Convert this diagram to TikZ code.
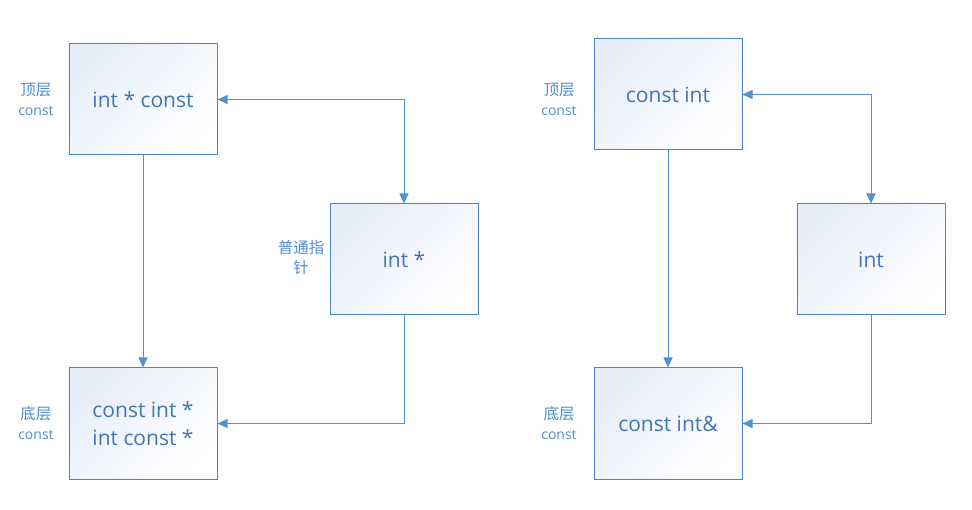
\documentclass[tikz,border=0pt]{standalone}
\usepackage{fontspec}
\setmainfont{Open Sans}
\newfontfamily\cjk{Noto Sans CJK SC}
\usetikzlibrary{arrows.meta}

\definecolor{boxline}{RGB}{74,132,192}
\definecolor{boxtop}{RGB}{231,237,248}
\definecolor{boxtext}{RGB}{66,118,178}
\definecolor{lbltext}{RGB}{78,140,205}
\definecolor{linkblue}{RGB}{82,146,210}

\tikzset{
  typebox/.style={draw=boxline, line width=1pt, minimum width=148pt, minimum height=111pt,
    top color=boxtop, bottom color=white, shading angle=45, text=boxtext, align=center,
    font=\fontsize{21}{28}\selectfont},
  lvl/.style={text=lbltext, align=center, font=\fontsize{14}{20}\selectfont},
  link/.style={draw=linkblue, line width=1pt, -{Triangle[length=10pt,width=9pt]}},
  twolink/.style={link, {Triangle[length=10pt,width=9pt]}-{Triangle[length=10pt,width=9pt]}}
}

\begin{document}
\begin{tikzpicture}[x=1pt,y=-1pt]
  \useasboundingbox (0,0) rectangle (972,510);

  % left part: pointers
  \node [typebox] (ptop) at (143,99.5) {int * const};
  \node [typebox] (pplain) at (404,259.5) {int *};
  \node [typebox] (pbot) at (143,423.5) {const int *\\int const *};

  \node [lvl] (ptoplbl) at (36,99) {{\cjk\fontsize{15.5}{20}\selectfont 顶层}\\const};
  \node [lvl] (pplainlbl) at (301,258) {{\cjk\fontsize{15.5}{20}\selectfont 普通指}\\{\cjk\fontsize{15.5}{20}\selectfont 针}};
  \node [lvl] (pbotlbl) at (36,423) {{\cjk\fontsize{15.5}{20}\selectfont 底层}\\const};

  \draw [link] (ptop.south) -- (pbot.north);
  \draw [twolink] (ptop.east) -| (pplain.north);
  \draw [link] (pplain.south) |- (pbot.east);

  % right part: references
  \node [typebox] (rtop) at (668,94.5) {const int};
  \node [typebox] (rplain) at (871,259.5) {int};
  \node [typebox] (rbot) at (668,423.5) {const int\&};

  \node [lvl] (rtoplbl) at (559,99) {{\cjk\fontsize{15.5}{20}\selectfont 顶层}\\const};
  \node [lvl] (rbotlbl) at (559,423) {{\cjk\fontsize{15.5}{20}\selectfont 底层}\\const};

  \draw [link] (rtop.south) -- (rbot.north);
  \draw [twolink] (rtop.east) -| (rplain.north);
  \draw [link] (rplain.south) |- (rbot.east);
\end{tikzpicture}
\end{document}
